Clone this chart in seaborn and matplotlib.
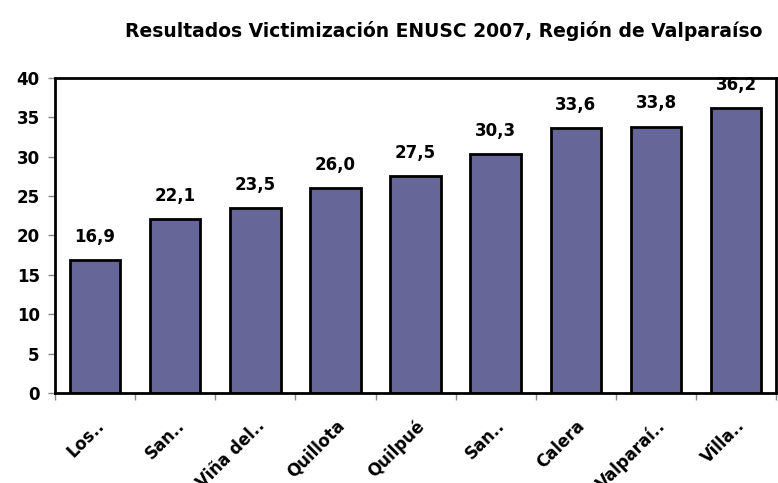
import numpy as np
import pandas as pd
import matplotlib
import seaborn as sns

matplotlib.use("Agg")
from matplotlib import pyplot as plt
from matplotlib import transforms

comunas = ["Los..", "San..", "Viña del..", "Quillota", "Quilpué", "San..",
           "Calera", "Valparaí..", "Villa.."]
victimizacion = [16.9, 22.1, 23.5, 26.0, 27.5, 30.3, 33.6, 33.8, 36.2]
y_ticks = [0, 5, 10, 15, 20, 25, 30, 35, 40]

sns.set_theme(style="white")
plt.rcParams["font.family"] = ["DejaVu Sans"]
plt.rcParams["font.weight"] = "bold"
plt.rcParams["text.color"] = "black"
plt.rcParams["xtick.labelcolor"] = "black"
plt.rcParams["ytick.labelcolor"] = "black"

df = pd.DataFrame({"pos": [str(i) for i in range(len(comunas))], "valor": victimizacion})

fig = plt.figure(figsize=(7.78, 4.83), dpi=100)
ax = fig.add_axes([0.0707, 0.186, 0.927, 0.653])

sns.barplot(data=df, x="pos", y="valor", color="#666699", saturation=1,
            width=0.63, edgecolor="black", linewidth=2, ax=ax)

for i, v in enumerate(victimizacion):
    ax.text(i, v + 1.8, f"{v:.1f}".replace(".", ","), ha="center", va="bottom",
            fontsize=12, fontweight="bold", color="black", clip_on=False)

ax.set_ylim(0, 40)
ax.set_xlim(-0.5, len(comunas) - 0.5)
ax.set_yticks(y_ticks)
ax.set_yticklabels([str(t) for t in y_ticks], fontsize=12, fontweight="bold", color="black")
ax.set_xticks(range(len(comunas)))
ax.set_xticklabels(comunas, rotation=45, ha="right", rotation_mode="anchor",
                   fontsize=12, fontweight="bold", color="black")
shift = transforms.ScaledTranslation(4 / 100, 0, fig.dpi_scale_trans)
for lab in ax.get_xticklabels():
    lab.set_transform(lab.get_transform() + shift)
ax.set_xticks(np.arange(-0.5, len(comunas), 1.0), minor=True)
ax.tick_params(axis="x", which="major", length=0, pad=17)
ax.tick_params(axis="x", which="minor", length=5, width=1, color="#888888", direction="out", bottom=True)
ax.tick_params(axis="y", length=5, width=1, color="#888888", direction="out", left=True, pad=6)
ax.set_xlabel("")
ax.set_ylabel("")

for s in ax.spines.values():
    s.set_color("black")
    s.set_linewidth(2)

fig.text(0.57, 0.935, "Resultados Victimización ENUSC 2007, Región de Valparaíso",
         ha="center", va="center", fontsize=13.5, fontweight="bold", color="black")

fig.savefig("out.png", dpi=100)
